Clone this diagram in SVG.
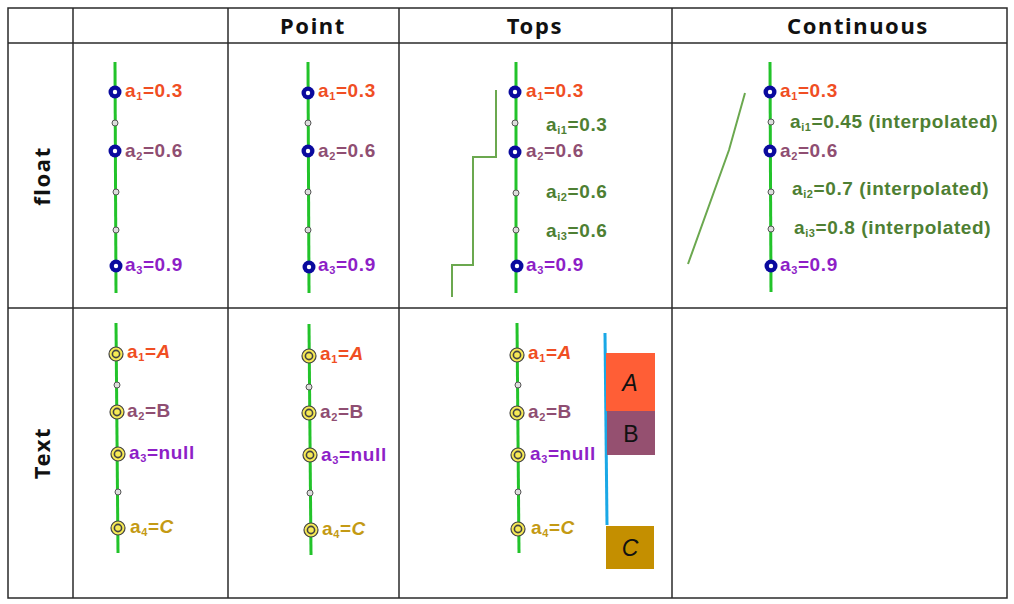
<svg xmlns="http://www.w3.org/2000/svg" width="1014" height="604" viewBox="0 0 1014 604">
<style>
.grid{stroke:#2a2a2a;stroke-width:1.5;fill:none}
.hdr{font-family:"Noto Sans","Liberation Sans",sans-serif;font-weight:bold;font-size:22px;fill:#111;text-anchor:middle;letter-spacing:1.6px}
.axis{stroke:#22c32a;stroke-width:3;fill:none}
.lbl{font-family:"Liberation Sans",Arial,sans-serif;font-weight:bold;font-size:19px;letter-spacing:0.6px}
.sub{font-size:11px}
.c1{fill:#f04e23}.c2{fill:#8f4e72}.c3{fill:#8e1fc7}.c4{fill:#c49a14}.ci{fill:#4e7f33}
.step{stroke:#6ba84f;stroke-width:2;fill:none}
.dot{fill:#ddd;stroke:#555;stroke-width:1}
.bout{fill:#0a0a9e}
.bin{fill:#fff}
.yout{fill:#f7ea55;stroke:#444;stroke-width:1.2}
.yin{fill:none;stroke:#444;stroke-width:1.6}
.box{font-family:"Liberation Sans",Arial,sans-serif;font-size:23px;fill:#111;text-anchor:middle}
</style>
<defs>
<g id="bm"><circle r="6.5" class="bout"/><circle r="2.2" class="bin"/></g>
<g id="ym"><circle r="7" class="yout"/><circle r="3.6" class="yin"/></g>
<circle id="sd" r="3" class="dot"/>
</defs>
<g id="table">
<rect x="8" y="8" width="999" height="590" class="grid"/>
<line x1="8" y1="43" x2="1007" y2="43" class="grid"/>
<line x1="8" y1="308" x2="1007" y2="308" class="grid"/>
<line x1="73" y1="8" x2="73" y2="598" class="grid"/>
<line x1="228" y1="8" x2="228" y2="598" class="grid"/>
<line x1="399" y1="8" x2="399" y2="598" class="grid"/>
<line x1="672" y1="8" x2="672" y2="598" class="grid"/>
<text x="313" y="34" class="hdr">Point</text>
<text x="535" y="34" class="hdr">Tops</text>
<text x="858" y="34" class="hdr">Continuous</text>
<text transform="translate(50,176) rotate(-90)" class="hdr">float</text>
<text transform="translate(50,453) rotate(-90)" class="hdr">Text</text>
</g>
<g id="connectors">
<line x1="115" y1="62" x2="116" y2="293" class="axis"/>
<line x1="308" y1="62" x2="309" y2="293" class="axis"/>
<line x1="516" y1="62" x2="516" y2="293" class="axis"/>
<line x1="770" y1="62" x2="771" y2="292" class="axis"/>
<line x1="116" y1="323" x2="118" y2="553" class="axis"/>
<line x1="309" y1="324" x2="311" y2="555" class="axis"/>
<line x1="517" y1="323" x2="519" y2="553" class="axis"/>
<polyline points="496,90 496,157 473,157 473,265 452,265 452,297" class="step"/>
<polyline points="745,93 729,150 688,264" class="step"/>
<line x1="605" y1="333" x2="607" y2="525" stroke="#1aa8e6" stroke-width="3"/>
</g>
<g id="float-col1">
<use href="#bm" x="115" y="92"/><use href="#sd" x="115" y="123"/><use href="#bm" x="115" y="151"/><use href="#sd" x="116" y="192"/><use href="#sd" x="116" y="230"/><use href="#bm" x="116" y="266"/>
<text x="125" y="97" class="lbl c1">a<tspan class="sub" dy="3">1</tspan><tspan dy="-3">=0.3</tspan></text>
<text x="125" y="157" class="lbl c2">a<tspan class="sub" dy="3">2</tspan><tspan dy="-3">=0.6</tspan></text>
<text x="125" y="271" class="lbl c3">a<tspan class="sub" dy="3">3</tspan><tspan dy="-3">=0.9</tspan></text>
</g>
<g id="float-point">
<use href="#bm" x="308" y="93"/><use href="#sd" x="308" y="123"/><use href="#bm" x="308" y="151"/><use href="#sd" x="308" y="192"/><use href="#sd" x="308" y="230"/><use href="#bm" x="309" y="267"/>
<text x="318" y="97" class="lbl c1">a<tspan class="sub" dy="3">1</tspan><tspan dy="-3">=0.3</tspan></text>
<text x="318" y="157" class="lbl c2">a<tspan class="sub" dy="3">2</tspan><tspan dy="-3">=0.6</tspan></text>
<text x="318" y="271" class="lbl c3">a<tspan class="sub" dy="3">3</tspan><tspan dy="-3">=0.9</tspan></text>
</g>
<g id="float-tops">
<use href="#bm" x="515" y="92"/><use href="#sd" x="515" y="123"/><use href="#bm" x="515" y="152"/><use href="#sd" x="516" y="193"/><use href="#sd" x="516" y="230"/><use href="#bm" x="517" y="266"/>
<text x="526" y="97" class="lbl c1">a<tspan class="sub" dy="3">1</tspan><tspan dy="-3">=0.3</tspan></text>
<text x="526" y="157" class="lbl c2">a<tspan class="sub" dy="3">2</tspan><tspan dy="-3">=0.6</tspan></text>
<text x="526" y="271" class="lbl c3">a<tspan class="sub" dy="3">3</tspan><tspan dy="-3">=0.9</tspan></text>
<text x="546" y="131" class="lbl ci">a<tspan class="sub" dy="3">i1</tspan><tspan dy="-3">=0.3</tspan></text>
<text x="546" y="198" class="lbl ci">a<tspan class="sub" dy="3">i2</tspan><tspan dy="-3">=0.6</tspan></text>
<text x="546" y="237" class="lbl ci">a<tspan class="sub" dy="3">i3</tspan><tspan dy="-3">=0.6</tspan></text>
</g>
<g id="float-continuous">
<use href="#bm" x="770" y="92"/><use href="#sd" x="771" y="122"/><use href="#bm" x="770" y="151"/><use href="#sd" x="771" y="192"/><use href="#sd" x="771" y="229"/><use href="#bm" x="771" y="266"/>
<text x="780" y="97" class="lbl c1">a<tspan class="sub" dy="3">1</tspan><tspan dy="-3">=0.3</tspan></text>
<text x="780" y="157" class="lbl c2">a<tspan class="sub" dy="3">2</tspan><tspan dy="-3">=0.6</tspan></text>
<text x="780" y="271" class="lbl c3">a<tspan class="sub" dy="3">3</tspan><tspan dy="-3">=0.9</tspan></text>
<text x="790" y="128" class="lbl ci">a<tspan class="sub" dy="3">i1</tspan><tspan dy="-3">=0.45 (interpolated)</tspan></text>
<text x="792" y="195" class="lbl ci">a<tspan class="sub" dy="3">i2</tspan><tspan dy="-3">=0.7 (interpolated)</tspan></text>
<text x="794" y="234" class="lbl ci">a<tspan class="sub" dy="3">i3</tspan><tspan dy="-3">=0.8 (interpolated)</tspan></text>
</g>
<g id="text-col1">
<use href="#ym" x="116" y="354"/><use href="#sd" x="117" y="385"/><use href="#ym" x="117" y="412"/><use href="#ym" x="118" y="454"/><use href="#sd" x="118" y="492"/><use href="#ym" x="118" y="528"/>
<text x="127" y="358" class="lbl c1">a<tspan class="sub" dy="3">1</tspan><tspan dy="-3">=</tspan><tspan font-style="italic">A</tspan></text>
<text x="127" y="417" class="lbl c2">a<tspan class="sub" dy="3">2</tspan><tspan dy="-3">=B</tspan></text>
<text x="129" y="459" class="lbl c3">a<tspan class="sub" dy="3">3</tspan><tspan dy="-3">=null</tspan></text>
<text x="130" y="533" class="lbl c4">a<tspan class="sub" dy="3">4</tspan><tspan dy="-3">=</tspan><tspan font-style="italic">C</tspan></text>
</g>
<g id="text-point">
<use href="#ym" x="309" y="356"/><use href="#sd" x="309" y="387"/><use href="#ym" x="309" y="413"/><use href="#ym" x="310" y="455"/><use href="#sd" x="310" y="493"/><use href="#ym" x="311" y="530"/>
<text x="320" y="360" class="lbl c1">a<tspan class="sub" dy="3">1</tspan><tspan dy="-3">=</tspan><tspan font-style="italic">A</tspan></text>
<text x="320" y="418" class="lbl c2">a<tspan class="sub" dy="3">2</tspan><tspan dy="-3">=B</tspan></text>
<text x="321" y="461" class="lbl c3">a<tspan class="sub" dy="3">3</tspan><tspan dy="-3">=null</tspan></text>
<text x="322" y="535" class="lbl c4">a<tspan class="sub" dy="3">4</tspan><tspan dy="-3">=</tspan><tspan font-style="italic">C</tspan></text>
</g>
<g id="text-tops">
<use href="#ym" x="517" y="355"/><use href="#sd" x="518" y="385"/><use href="#ym" x="517" y="413"/><use href="#ym" x="518" y="455"/><use href="#sd" x="518" y="492"/><use href="#ym" x="518" y="529"/>
<text x="528" y="359" class="lbl c1">a<tspan class="sub" dy="3">1</tspan><tspan dy="-3">=</tspan><tspan font-style="italic">A</tspan></text>
<text x="528" y="418" class="lbl c2">a<tspan class="sub" dy="3">2</tspan><tspan dy="-3">=B</tspan></text>
<text x="530" y="460" class="lbl c3">a<tspan class="sub" dy="3">3</tspan><tspan dy="-3">=null</tspan></text>
<text x="531" y="534" class="lbl c4">a<tspan class="sub" dy="3">4</tspan><tspan dy="-3">=</tspan><tspan font-style="italic">C</tspan></text>
</g>
<g id="box-A"><rect x="606" y="353" width="49" height="58" fill="#ff5e36"/><text x="630" y="391" class="box" font-style="italic">A</text></g>
<g id="box-B"><rect x="607" y="411" width="48" height="44" fill="#955070"/><text x="631" y="442" class="box">B</text></g>
<g id="box-C"><rect x="606" y="526" width="48" height="43" fill="#c48f00"/><text x="630" y="556" class="box" font-style="italic">C</text></g>
</svg>
